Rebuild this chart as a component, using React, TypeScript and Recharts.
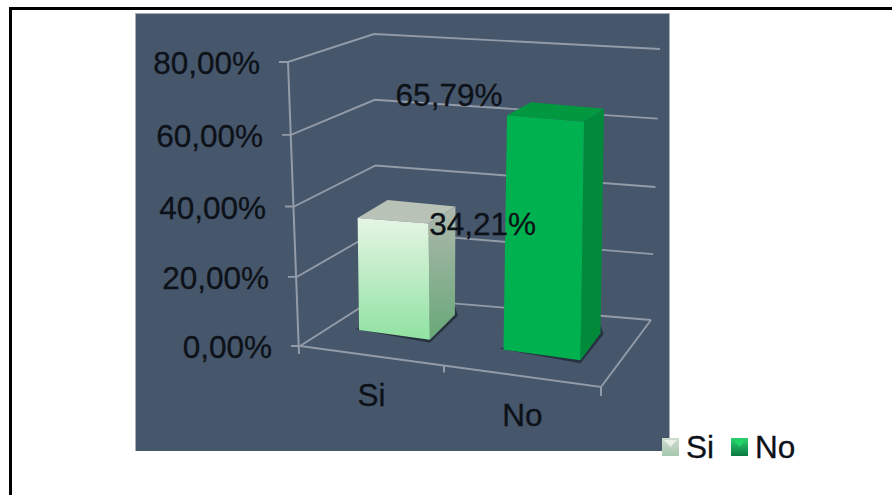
import React from "react";
import { BarChart, Bar, XAxis, YAxis, LabelList, Legend } from "recharts";

const categories = ["Si", "No"];
const shares = [34.21, 65.79];
const yTicks = [0, 20, 40, 60, 80];

const rows = categories.map((name, i) => ({ name, share: shares[i] }));

const FONT = "'Liberation Sans', Arial, sans-serif";
const FONT_SIZE = 31.5;
const TEXT = "#0d1118";
const GRID = "#929ba7";
const TEXT_STYLE = { fontFamily: FONT, fontSize: FONT_SIZE, fill: TEXT, stroke: TEXT, strokeWidth: 0.3 };

// Scene frame of the 3D plot. Each wall edge runs from its 0% point to its 80% point.
const WALL_FRONT = { x0: 300, y0: 346, x1: 288, y1: 62 };
const WALL_BACK = { x0: 377, y0: 297, x1: 374, y1: 34 };
const WALL_RIGHT = { x0: 651, y0: 320, x1: 660, y1: 49 };
const FLOOR_FRONT_RIGHT = { x: 601, y: 387 };
const Y_ZERO = 347;
const Y_TOP = 62;
const CENTER_A = 394.5;
const CENTER_B = 541.5;
const BAR_INSET = 24;
const SAG = 2.5;

const mix = (a: number, b: number, t: number) => a + (b - a) * t;
const along = (e: typeof WALL_FRONT, f: number, sag = 0) => [mix(e.x0, e.x1, f), mix(e.y0, e.y1, f) + sag * 4 * f * (1 - f)];
const pts = (list: number[][]) => list.map((p) => p.join(",")).join(" ");
const frontFloorY = (x: number) => WALL_FRONT.y0 + ((x - WALL_FRONT.x0) * (FLOOR_FRONT_RIGHT.y - WALL_FRONT.y0)) / (FLOOR_FRONT_RIGHT.x - WALL_FRONT.x0);
const percent = (v: number) => v.toFixed(2).replace(".", ",") + "%";

// Front face of a bar on the receding floor: nearer bars draw wider and taller.
function frontFace(x: number, width: number, height: number) {
  const cx = x + width / 2;
  const t = (cx - CENTER_A) / (CENTER_B - CENTER_A);
  const scale = mix(0.92, 1, t);
  const w = width * scale;
  const h = height * scale;
  const left = cx - w / 2 + mix(0, 0.5, t);
  const lean = mix(-0.013, 0.015, t) * h;
  const bl = [left, frontFloorY(left) - BAR_INSET];
  const br = [left + w, frontFloorY(left + w) - BAR_INSET];
  const tl = [bl[0] + lean, bl[1] - h];
  const tr = [br[0] + lean, br[1] - h - 4];
  return { t, cx, bl, br, tl, tr };
}

// Value ticks also carry the wall gridlines, and the 0% tick carries the floor outline.
function ValueTick(props: any) {
  const { y, payload } = props;
  const f = (Y_ZERO - y) / (Y_ZERO - Y_TOP);
  const a = along(WALL_FRONT, f, SAG);
  const b = along(WALL_BACK, f);
  const c = along(WALL_RIGHT, f, SAG);
  const isZero = payload.value === 0;
  return (
    <g>
      <polyline points={pts([[a[0] - 9, a[1]], a, b, c])} fill="none" stroke={GRID} strokeWidth={1.9} />
      {isZero && (
        <g fill="none" stroke={GRID} strokeWidth={2}>
          <polyline points={pts([a, [FLOOR_FRONT_RIGHT.x, FLOOR_FRONT_RIGHT.y], c])} />
          <line x1={WALL_FRONT.x1} y1={WALL_FRONT.y1} x2={a[0] - 1} y2={a[1] + 8} />
          <line x1={FLOOR_FRONT_RIGHT.x} y1={FLOOR_FRONT_RIGHT.y} x2={FLOOR_FRONT_RIGHT.x} y2={FLOOR_FRONT_RIGHT.y + 9} />
        </g>
      )}
      <text x={a[0] - 28} y={a[1] + 1} textAnchor="end" dominantBaseline="central" {...TEXT_STYLE}>
        {percent(payload.value)}
      </text>
    </g>
  );
}

// Category labels sit below the slanted floor edge, with a division mark after the first band.
function CategoryTick(props: any) {
  const { x, payload } = props;
  const t = (x - CENTER_A) / (CENTER_B - CENTER_A);
  const lx = x - mix(23, 19, t);
  const mark = x + mix(49.5, 59.5, t);
  return (
    <g>
      {t < 0.5 && <line x1={mark} y1={frontFloorY(mark)} x2={mark} y2={frontFloorY(mark) + 7} stroke={GRID} strokeWidth={2} />}
      <text x={lx} y={frontFloorY(lx) + 39} textAnchor="middle" dominantBaseline="central" {...TEXT_STYLE}>
        {payload.value}
      </text>
    </g>
  );
}

// A prism extruded from the band position and bar height the chart computes.
function PrismBar(props: any) {
  const { x, width, height, index } = props;
  const { t, bl, br, tl, tr } = frontFace(x, width, height);
  const baseDepth = [mix(25, 20, t), mix(25, 27, t)];
  const topDepth = [mix(27, 20, t), mix(17, 13, t)];
  const bb = [br[0] + baseDepth[0], br[1] - baseDepth[1]];
  const tb = [tr[0] + topDepth[0], tr[1] - topDepth[1]];
  const tbl = [tl[0] + topDepth[0] + mix(3, 4, t), tl[1] - mix(18, 13, t)];
  const isLight = index === 0;
  const id = `prism-${index}`;
  const shadow = [[bl[0] - 4, bl[1] - 1], [br[0], br[1] + 3], [bb[0] + 3, bb[1] + 1], [bb[0], bb[1] - 8]];
  return (
    <g>
      <defs>
        <linearGradient id={`${id}-front`} x1="0" y1="0" x2="0" y2="1">
          <stop offset="0" stopColor={isLight ? "#e6f5e4" : "#00b14f"} />
          <stop offset="1" stopColor={isLight ? "#90e2a2" : "#00b14f"} />
        </linearGradient>
        <linearGradient id={`${id}-side`} x1="0" y1="0" x2="0" y2="1">
          <stop offset="0" stopColor={isLight ? "#afb8ad" : "#008a3a"} />
          <stop offset="1" stopColor={isLight ? "#68a878" : "#008a3a"} />
        </linearGradient>
      </defs>
      <polygon points={pts(shadow)} fill="#27313f" />
      <polygon points={pts([tl, tbl, tb, tr])} fill={isLight ? "#b9c2b6" : "#019840"} />
      <polygon points={pts([tr, tb, bb, br])} fill={`url(#${id}-side)`} />
      <polygon points={pts([tl, tr, br, bl])} fill={`url(#${id}-front)`} />
    </g>
  );
}

// Data labels keep their own offsets from each bar's front-left top corner.
const LABEL_SHIFT = [
  { dx: 125, dy: 6 },
  { dx: -58, dy: -20 },
];

function ShareLabel(props: any) {
  const { x, width, height, value, index } = props;
  const { tl } = frontFace(x, width, height);
  const s = LABEL_SHIFT[index];
  return (
    <text x={tl[0] + s.dx} y={tl[1] + s.dy} textAnchor="middle" dominantBaseline="central" {...TEXT_STYLE}>
      {percent(Number(value))}
    </text>
  );
}

function SwatchLegend() {
  return (
    <div style={{ display: "flex", alignItems: "center", fontFamily: FONT, fontSize: FONT_SIZE, color: TEXT, lineHeight: "34px", WebkitTextStroke: "0.3px " + TEXT }}>
      {categories.map((name, i) => (
        <div key={name} style={{ display: "flex", alignItems: "center", marginRight: 17 }}>
          <svg width={17} height={18} style={{ marginRight: 7 }}>
            <defs>
              <linearGradient id={`swatch-${i}`} x1="0" y1="0" x2="0" y2="1">
                <stop offset="0" stopColor={i === 0 ? "#cfdcd0" : "#2fd070"} />
                <stop offset="1" stopColor={i === 0 ? "#a6c8ae" : "#0a7a40"} />
              </linearGradient>
            </defs>
            <rect width={17} height={18} fill={`url(#swatch-${i})`} />
            <polygon points="2,2 15,2 8.5,9" fill={i === 0 ? "#e8f0e8" : "#20d468"} />
          </svg>
          <span>{name}</span>
        </div>
      ))}
    </div>
  );
}

const LAYER: React.CSSProperties = { position: "absolute", left: 0, top: 0 };

export default function App() {
  return (
    <div style={{ position: "absolute", left: 0, top: 0, width: 892, height: 495, background: "#ffffff", overflow: "hidden" }}>
      <div style={{ position: "absolute", left: 9, top: 7, width: 883, height: 3, background: "#000" }} />
      <div style={{ position: "absolute", left: 9, top: 7, width: 3, height: 488, background: "#000" }} />
      <div style={{ position: "absolute", left: 135, top: 13, width: 535, height: 438, boxSizing: "border-box", background: "#46566b", borderLeft: "1px solid #aab0b8", borderTop: "1px solid #aab0b8", borderRight: "1px solid #aab0b8" }} />
      {/* Axes, walls and floor sit in their own layer so the bars always cover them. */}
      <div style={LAYER}>
        <BarChart
          width={892}
          height={495}
          data={rows}
          margin={{ left: 320, right: 277, top: Y_TOP, bottom: 495 - Y_ZERO - 1 }}
        >
          <YAxis width={1} domain={[0, 80]} ticks={yTicks} interval={0} axisLine={false} tickLine={false} tick={<ValueTick />} />
          <XAxis dataKey="name" height={1} interval={0} axisLine={false} tickLine={false} tick={<CategoryTick />} />
          <Bar dataKey="share" fill="none" isAnimationActive={false} />
        </BarChart>
      </div>
      <div style={LAYER}>
        <BarChart
          width={892}
          height={495}
          data={rows}
          margin={{ left: 321, right: 277, top: Y_TOP, bottom: 495 - Y_ZERO }}
          barSize={77}
        >
          <YAxis hide domain={[0, 80]} />
          <XAxis hide dataKey="name" />
          <Legend
            verticalAlign="middle"
            content={<SwatchLegend />}
            wrapperStyle={{ left: 662, top: 430, width: 220, height: 34 }}
          />
          <Bar dataKey="share" shape={<PrismBar />} isAnimationActive={false}>
            <LabelList dataKey="share" content={<ShareLabel />} />
          </Bar>
        </BarChart>
      </div>
    </div>
  );
}
